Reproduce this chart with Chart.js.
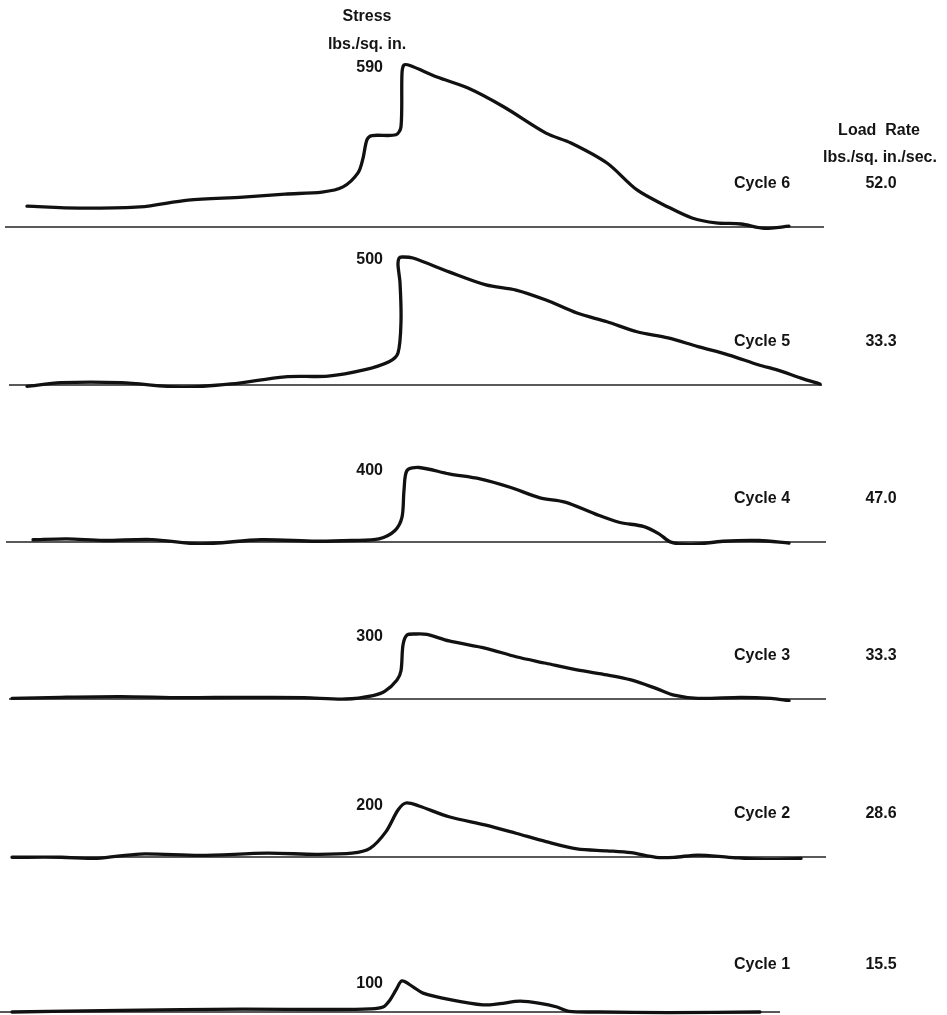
<!DOCTYPE html>
<html>
<head>
<meta charset="utf-8">
<title>Stress cycles</title>
<script src="https://cdn.jsdelivr.net/npm/chart.js@4.4.1/dist/chart.umd.min.js"></script>
<style>
  html, body { margin: 0; padding: 0; background: #fff; }
  #wrap { width: 947px; height: 1015px; }
</style>
</head>
<body>
<div id="wrap"><canvas id="cycles" width="947" height="1015"></canvas></div>
<script>
// panels from top to bottom
const cycles = ["Cycle 6", "Cycle 5", "Cycle 4", "Cycle 3", "Cycle 2", "Cycle 1"];
const loadRate = ["52.0", "33.3", "47.0", "33.3", "28.6", "15.5"];

// trace readings: time (arbitrary record units) and stress (lbs./sq. in.)
const time6 = [2.7, 7.9, 14.0, 18.8, 24.3, 28.5, 32.2, 34.3, 35.8, 36.3, 36.7, 37.2, 39.6, 40.1, 40.2, 40.4, 41.0, 43.7, 46.8, 50.4, 54.6, 57.1, 60.7, 63.7, 66.8, 69.2, 71.6, 74.1, 76.5, 78.9];
const stress6 = [76, 69, 73, 98, 109, 120, 127, 146, 197, 250, 318, 333, 336, 365, 560, 590, 588, 546, 506, 437, 342, 306, 233, 135, 73, 33, 15, 11, -5, 3];

const time5 = [2.7, 6.1, 12.1, 18.2, 23.1, 28.5, 32.8, 36.4, 38.9, 39.8, 40.1, 40.0, 39.8, 39.9, 40.2, 41.3, 44.9, 48.6, 51.6, 54.6, 57.7, 60.7, 63.7, 66.8, 69.8, 72.9, 75.9, 77.7, 80.1, 82.0];
const stress5 = [-5, 9, 9, -8, 4, 32, 35, 59, 91, 125, 250, 400, 470, 495, 500, 496, 442, 391, 371, 332, 281, 247, 208, 184, 150, 117, 78, 59, 27, 4];

const time4 = [3.3, 6.7, 10.3, 15.2, 20.0, 26.1, 31.6, 35.2, 37.9, 39.5, 40.2, 40.4, 40.7, 41.9, 44.9, 48.0, 51.0, 54.0, 56.5, 59.5, 61.9, 64.4, 65.9, 67.1, 69.2, 72.3, 75.9, 78.9];
const stress4 = [12, 17, 8, 13, -10, 12, 4, 8, 17, 62, 133, 277, 384, 400, 366, 339, 294, 237, 214, 151, 106, 83, 44, -1, -13, 4, 8, -6];

const time3 = [1.2, 6.1, 12.1, 18.2, 24.3, 30.4, 34.6, 37.3, 38.5, 39.7, 40.1, 40.3, 40.7, 41.6, 42.7, 44.9, 48.6, 51.6, 54.6, 57.7, 60.7, 63.1, 65.6, 67.4, 69.8, 74.1, 77.1, 78.9];
const stress3 = [3, 8, 11, 6, 8, 6, 0, 16, 36, 88, 130, 249, 295, 300, 298, 268, 234, 195, 165, 134, 111, 88, 49, 18, 3, 8, 3, -8];

const time2 = [1.2, 6.1, 9.7, 14.0, 20.0, 26.7, 31.6, 35.2, 37.0, 38.6, 39.8, 40.6, 41.9, 44.9, 48.6, 51.6, 54.6, 57.7, 60.7, 63.1, 65.6, 67.4, 69.8, 72.9, 76.5, 80.1];
const stress2 = [-1, -1, -5, 11, 6, 14, 10, 14, 32, 94, 174, 200, 189, 149, 118, 88, 57, 30, 23, 16, -1, -1, 7, -1, -9, -5];

const time1 = [1.2, 12.1, 24.3, 33.4, 37.0, 38.3, 39.0, 39.6, 40.2, 41.3, 42.3, 45.0, 48.3, 50.0, 52.0, 54.0, 55.7, 56.9, 60.0, 66.8, 76.0];
const stress1 = [0, 5, 9, 8, 10, 16, 39, 71, 100, 81, 61, 40, 23, 27, 35, 28, 16, 2, 0, -2, 0];

const times = [time6, time5, time4, time3, time2, time1];
const stresses = [stress6, stress5, stress4, stress3, stress2, stress1];

// zero line extent of each record
const baseStart = [0.5, 0.9, 0.6, 0.9, 1.2, 0.0];
const baseEnd = [82.4, 82.2, 82.6, 82.6, 82.6, 78.0];

// each record had its own pen gain, so each panel gets its own y range
const yMin = [-10.9, -11.7, -16.1, -13.8, -11.1, -9.7];
const yMax = [826.7, 605.5, 826.9, 710.7, 574.1, 490.3];
const panelWeight = [230, 158, 157, 157, 158, 155];

const datasets = [];
const scales = {
  x: { type: "linear", min: 0, max: 94.7, display: false }
};

cycles.forEach((name, i) => {
  const axis = "y" + i;
  scales[axis] = {
    type: "linear",
    position: "right",
    stack: "panels",
    stackWeight: panelWeight[i],
    min: yMin[i],
    max: yMax[i],
    display: false
  };
  datasets.push({
    label: name,
    data: times[i].map((t, j) => ({ x: t, y: stresses[i][j] })),
    yAxisID: axis,
    borderColor: "#111",
    borderWidth: 3.3,
    tension: 0.3,
    borderJoinStyle: "round",
    borderCapStyle: "round",
    pointRadius: 0,
    order: 0
  });
  datasets.push({
    label: name + " zero",
    data: [{ x: baseStart[i], y: 0 }, { x: baseEnd[i], y: 0 }],
    yAxisID: axis,
    borderColor: "#222",
    borderWidth: 1.4,
    pointRadius: 0,
    order: 1
  });
});

const textPlugin = {
  id: "textLabels",
  afterDraw(chart) {
    const ctx = chart.ctx;
    const xs = chart.scales.x;
    ctx.save();
    ctx.fillStyle = "#141414";
    ctx.font = 'bold 16px "Liberation Sans", Arial, sans-serif';
    ctx.textBaseline = "middle";

    ctx.textAlign = "center";
    ctx.fillText("Stress", xs.getPixelForValue(36.7), 17);
    ctx.fillText("lbs./sq. in.", xs.getPixelForValue(36.7), 45);
    ctx.fillText("Load  Rate", xs.getPixelForValue(87.9), 131);
    ctx.fillText("lbs./sq. in./sec.", xs.getPixelForValue(88.0), 158);

    cycles.forEach((name, i) => {
      const ys = chart.scales["y" + i];
      const zero = ys.getPixelForValue(0);
      const peak = Math.max(...stresses[i]);
      const rowY = zero - (i === 5 ? 47 : 43);
      ctx.textAlign = "right";
      ctx.fillText(String(peak), xs.getPixelForValue(38.3), ys.getPixelForValue(peak) + 3);
      ctx.textAlign = "left";
      ctx.fillText(name, xs.getPixelForValue(73.4), rowY);
      ctx.textAlign = "center";
      ctx.fillText(loadRate[i], xs.getPixelForValue(88.1), rowY);
    });
    ctx.restore();
  }
};

new Chart(document.getElementById("cycles"), {
  type: "line",
  data: { datasets: datasets },
  options: {
    responsive: false,
    animation: false,
    layout: { padding: 0 },
    scales: scales,
    plugins: {
      legend: { display: false },
      tooltip: { enabled: false }
    }
  },
  plugins: [textPlugin]
});
</script>
</body>
</html>
